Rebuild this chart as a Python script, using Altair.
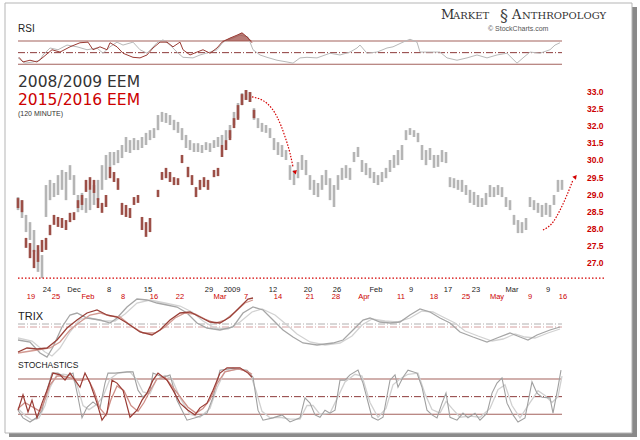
import altair as alt
import pandas as pd

# ---------------- data ----------------
price_ticks = [27.0, 27.5, 28.0, 28.5, 29.0, 29.5, 30.0, 31.5, 32.0, 32.5, 33.0]

# 2008/2009 EEM (120 minute bars): step position, high, low
gray_t = list(range(0, 548, 4))
gray_high = [28.93, 28.84, 28.41, 28.20, 27.97, 27.39, 27.24, 29.28, 29.43, 29.34,
             29.57, 29.72, 29.66, 29.86, 29.57, 28.99, 29.05, 28.90, 29.14, 29.28,
             29.43, 29.86, 30.47, 30.73, 30.73, 30.90, 31.34, 31.68, 31.59, 31.65,
             31.59, 31.68, 31.80, 31.88, 31.94, 32.32, 32.41, 32.38, 32.32, 32.18,
             32.12, 31.94, 31.74, 31.59, 31.50, 31.50, 31.34, 31.53, 31.50, 31.59,
             31.68, 31.74, 31.88, 32.03, 32.41, 32.67, 32.96, 33.05, 32.99, 32.52,
             32.23, 32.09, 32.03, 31.94, 31.65, 31.53, 31.34, 30.90, 29.86, 29.72,
             29.95, 30.47, 30.03, 29.57, 29.43, 29.34, 29.57, 29.72, 29.48, 29.28,
             29.57, 29.78, 29.86, 29.78, 30.73, 31.17, 30.03, 29.92, 29.78, 29.66,
             29.57, 29.66, 29.78, 30.03, 30.47, 30.90, 31.34, 31.88, 31.94, 31.88,
             31.80, 31.34, 30.90, 31.08, 30.47, 30.47, 30.90, 30.73, 29.51, 29.48,
             29.43, 29.43, 29.28, 29.14, 29.08, 28.99, 28.90, 29.05, 29.28, 29.22,
             29.28, 29.22, 28.93, 28.84, 28.41, 28.26, 28.20, 28.32, 28.93, 28.84,
             28.76, 28.70, 28.76, 28.70, 28.99, 29.43, 29.43]
gray_low = [28.55, 28.32, 27.91, 27.68, 27.33, 26.75, 26.57, 28.35, 28.84, 28.93,
            28.99, 29.14, 28.84, 29.43, 28.99, 28.49, 28.55, 28.47, 28.55, 28.70,
            28.84, 29.14, 29.43, 29.81, 29.86, 29.92, 30.20, 30.73, 30.64, 30.90,
            30.90, 31.08, 31.34, 31.59, 31.65, 31.88, 32.12, 32.09, 32.03, 31.88,
            31.80, 31.59, 31.08, 30.90, 30.73, 30.73, 30.64, 30.90, 30.73, 31.08,
            31.17, 31.34, 31.59, 31.65, 32.03, 32.23, 32.61, 32.76, 32.70, 32.18,
            31.94, 31.83, 31.80, 31.65, 30.90, 30.47, 30.29, 30.03, 29.43, 29.28,
            29.48, 29.72, 29.57, 29.14, 28.99, 28.93, 29.14, 29.28, 28.84, 28.64,
            29.14, 29.43, 29.48, 29.43, 29.95, 30.29, 29.66, 29.57, 29.48, 29.34,
            29.28, 29.37, 29.48, 29.66, 29.78, 29.86, 30.03, 31.59, 31.74, 31.68,
            31.53, 30.03, 29.86, 30.03, 29.78, 29.81, 29.95, 29.92, 29.22, 29.19,
            29.14, 29.08, 28.99, 28.76, 28.70, 28.64, 28.64, 28.70, 28.93, 28.93,
            28.99, 28.93, 28.64, 28.55, 28.12, 27.88, 27.88, 27.97, 28.64, 28.55,
            28.47, 28.35, 28.41, 28.35, 28.70, 29.08, 29.14]

# 2015/2016 EEM
red_t = [0, 4, 8, 12, 16, 20, 24, 28, 32, 36, 40, 44, 48, 52, 56, 60, 64, 68, 72, 76,
         80, 84, 88, 92, 96, 100, 104, 108, 112, 116, 120, 124, 128, 132,
         140, 144, 148, 152, 156, 160, 164,
         170, 174, 178, 182, 186, 190,
         196, 200, 204, 208, 212, 216, 220, 224, 228, 232, 236]
red_high = [28.90, 28.84, 27.74, 27.59, 27.39, 27.53, 27.68, 27.74, 28.12, 28.41,
            28.35, 28.32, 28.26, 28.47, 28.49, 28.84, 28.99, 29.43, 29.51, 29.43,
            28.90, 28.76, 28.99, 29.81, 29.66, 29.48, 28.76, 28.70, 28.61, 28.93,
            28.99, 28.35, 28.20, 28.32,
            29.14, 29.66, 29.78, 29.66, 29.51, 29.48, 30.47,
            29.81, 29.57, 29.22, 29.43, 29.51, 29.43,
            29.72, 29.78, 31.34, 31.59, 31.88, 32.23, 32.61, 32.93, 33.05, 32.99, 32.47]
red_low = [28.61, 28.49, 27.45, 27.15, 26.86, 27.04, 27.33, 27.39, 27.82, 28.12,
           28.06, 28.03, 27.97, 28.20, 28.26, 28.61, 28.70, 29.08, 29.14, 29.05,
           28.61, 28.47, 28.64, 29.48, 29.37, 29.14, 28.41, 28.35, 28.32, 28.70,
           28.76, 27.97, 27.77, 27.91,
           28.93, 29.43, 29.48, 29.37, 29.28, 29.28, 29.92,
           29.51, 29.28, 28.93, 29.14, 29.22, 29.14,
           29.51, 29.54, 30.29, 30.90, 31.59, 31.94, 32.18, 32.61, 32.76, 32.70, 32.23]

low_level = 26.57
low_level_span = [0, 587]

arrow1_t = [234, 249, 259, 267, 272, 275]
arrow1_p = [32.85, 32.66, 32.27, 31.69, 30.62, 29.81]
arrow1_head = (277, 29.66)
arrow2_t = [525, 535, 542, 549, 555]
arrow2_p = [27.97, 28.20, 28.55, 28.99, 29.43]
arrow2_head = (557, 29.51)

# RSI
rsi_gray_t = [0, 7, 15, 22, 25, 32, 40, 49, 59, 69, 79, 85, 92, 99, 105, 115, 122, 129, 139, 145,
              152, 159, 165, 175, 182, 192, 199, 205, 215, 222, 230, 235, 242, 249, 259, 269, 275, 282, 289, 299,
              312, 322, 332, 339, 342, 349, 359, 369, 375, 385, 392, 399, 402, 412, 422, 429, 439, 449, 459, 469,
              479, 489, 499, 505, 512, 522, 532, 537, 542]
rsi_gray_v = [41, 32, 34, 37, 46, 58, 55, 63, 60, 55, 58, 49, 60, 68, 63, 68, 55, 49, 67, 72,
              63, 51, 42, 41, 46, 51, 55, 68, 75, 80, 77, 55, 46, 42, 37, 34, 32, 41, 42, 41,
              49, 46, 51, 58, 63, 49, 51, 58, 60, 68, 73, 68, 51, 51, 51, 41, 37, 41, 46, 41,
              46, 49, 32, 41, 51, 49, 55, 63, 67]
rsi_red_t = [1, 5, 12, 19, 25, 34, 42, 52, 62, 70, 75, 82, 89, 92, 99, 105, 115, 122, 129, 135,
             142, 149, 155, 162, 165, 172, 179, 185, 192, 199, 204, 212, 219, 224, 229, 234]
rsi_red_v = [42, 34, 37, 34, 42, 55, 51, 60, 67, 68, 55, 60, 55, 67, 60, 49, 42, 41, 46, 58,
             68, 68, 60, 68, 55, 46, 51, 55, 49, 58, 68, 75, 80, 84, 77, 67]
rsi_bands = [30, 70]
rsi_mid = 50

# TRIX
trix_gray_t = [0, 12, 22, 29, 35, 44, 52, 59, 69, 82, 92, 99, 109, 119, 129, 139, 149, 159, 169, 179,
               189, 202, 215, 225, 235, 245, 255, 265, 275, 285, 299, 315, 325, 335, 345, 352, 362, 372, 382, 392,
               402, 412, 422, 432, 442, 455, 469, 479, 492, 502, 510, 519, 532, 542]
trix_gray_v = [-0.8, -0.9, -1.45, -1.65, -1.15, -0.15, 0.45, 0.55, 0.3, 0.2, 0.05, 0.3, 0.85, 1.25, 1.2, 1.05, 0.95, 0.85, 0.55, 0.05,
               -0.2, -0.3, -0.15, 0.55, 0.85, 0.7, 0.2, -0.3, -0.65, -0.95, -1.05, -0.95, -0.8, -0.3, 0.2, 0.3, 0.1, 0.05, 0.1, 0.45,
               0.75, 0.6, 0.3, 0.05, -0.4, -0.65, -0.9, -0.7, -0.45, -0.65, -0.8, -0.55, -0.3, -0.15]
trix_gray_sig_t = [0, 14, 27, 34, 42, 52, 62, 72, 85, 97, 107, 119, 132, 147, 162, 174, 185, 197, 210, 222,
                   234, 244, 257, 269, 279, 292, 307, 322, 334, 344, 354, 367, 379, 392, 404, 415, 425, 437, 447, 460,
                   474, 485, 497, 507, 517, 530, 542]
trix_gray_sig_v = [-0.7, -0.85, -1.4, -1.6, -1.2, -0.4, 0.25, 0.3, 0.15, 0.15, 0.5, 1.05, 1.2, 1.05, 0.9, 0.6, 0.15, -0.2, -0.25, 0.1,
                   0.6, 0.75, 0.45, -0.05, -0.5, -0.9, -1.05, -0.95, -0.6, -0.05, 0.25, 0.15, 0.1, 0.3, 0.65, 0.6, 0.35, 0.05, -0.35, -0.6,
                   -0.85, -0.75, -0.5, -0.65, -0.7, -0.45, -0.25]
trix_red_t = [0, 9, 19, 29, 39, 49, 59, 69, 79, 89, 99, 109, 122, 134, 142, 152, 162, 172, 182, 192,
              202, 212, 222, 230, 235]
trix_red_v = [-1.25, -1.05, -1.1, -1.05, -0.65, -0.05, 0.35, 0.7, 0.85, 0.6, 0.5, 0.2, -0.25, -0.4, -0.15, 0.35, 0.7, 0.75, 0.5, 0.25,
              0.2, 0.5, 1.0, 1.4, 1.45]
trix_red_sig_t = [0, 19, 32, 42, 52, 62, 72, 82, 92, 102, 112, 125, 137, 147, 157, 167, 177, 187, 197, 207,
                  217, 227, 235]
trix_red_sig_v = [-1.3, -1.15, -1.05, -0.75, -0.15, 0.25, 0.6, 0.7, 0.55, 0.5, 0.1, -0.3, -0.3, 0.0, 0.45, 0.7, 0.65, 0.4, 0.2, 0.35,
                  0.75, 1.2, 1.35]

# Stochastics
sto_gray_t = [0, 5, 12, 19, 24, 29, 34, 40, 47, 55, 60, 64, 69, 75, 82, 87, 90, 97, 109, 115,
              120, 125, 132, 135, 145, 152, 159, 169, 179, 189, 195, 202, 215, 229, 235, 240, 245, 255, 264, 272,
              282, 287, 292, 297, 302, 307, 312, 317, 322, 327, 332, 340, 345, 354, 360, 365, 372, 377, 380, 385,
              390, 399, 404, 409, 414, 419, 424, 428, 432, 439, 445, 450, 457, 462, 469, 474, 479, 484, 489, 495,
              500, 507, 514, 519, 524, 532, 535, 540, 543]
sto_gray_k = [27, 14, 7, 15, 27, 61, 90, 90, 83, 90, 49, 14, 32, 41, 31, 73, 90, 90, 92, 92,
              61, 49, 61, 90, 83, 87, 44, 10, 15, 22, 49, 95, 98, 95, 83, 27, 10, 14, 19, 7,
              14, 48, 39, 19, 15, 27, 22, 27, 78, 78, 87, 95, 73, 15, 10, 15, 78, 87, 66, 83,
              95, 90, 66, 27, 19, 14, 39, 56, 15, 10, 22, 14, 22, 10, 22, 56, 73, 82, 39, 19,
              7, 14, 75, 56, 49, 48, 22, 66, 95]
sto_gray_dt = [0, 7, 14, 21, 27, 32, 38, 45, 52, 59, 65, 71, 78, 85, 92, 100, 112, 119, 125, 132,
               138, 147, 154, 162, 172, 182, 192, 199, 207, 222, 232, 238, 244, 252, 262, 272, 282, 289, 295, 302,
               312, 320, 327, 337, 344, 352, 360, 368, 375, 382, 390, 400, 407, 414, 422, 428, 434, 442, 452, 462,
               472, 480, 487, 494, 502, 512, 520, 527, 534, 540, 544]
sto_gray_d = [30, 18, 10, 14, 35, 65, 85, 88, 86, 70, 35, 28, 36, 50, 80, 90, 92, 78, 58, 55,
              78, 86, 80, 48, 20, 15, 30, 65, 93, 97, 90, 60, 25, 14, 15, 12, 12, 35, 35, 20,
              22, 50, 75, 88, 85, 40, 15, 30, 70, 80, 88, 90, 55, 28, 22, 42, 30, 15, 17, 15,
              30, 62, 70, 35, 14, 40, 60, 52, 40, 50, 85]
sto_red_t = [0, 5, 10, 14, 19, 24, 29, 35, 42, 47, 52, 57, 62, 67, 72, 79, 84, 89, 94, 99,
             105, 112, 119, 124, 129, 135, 140, 149, 155, 162, 170, 177, 182, 189, 195, 202, 209, 222, 230, 234]
sto_red_k = [27, 53, 24, 44, 14, 39, 61, 90, 87, 78, 90, 78, 66, 90, 73, 39, 10, 22, 78, 73,
             61, 15, 27, 44, 56, 78, 90, 78, 61, 39, 27, 19, 31, 39, 61, 90, 99, 99, 90, 83]
sto_red_dt = [0, 7, 12, 17, 22, 27, 32, 39, 45, 52, 59, 65, 70, 76, 82, 88, 93, 99, 106, 113,
              120, 126, 132, 139, 147, 154, 162, 170, 178, 185, 192, 199, 207, 220, 229, 234]
sto_red_d = [30, 40, 35, 30, 25, 45, 70, 85, 85, 82, 78, 78, 80, 60, 30, 18, 45, 68, 60, 35,
             25, 40, 60, 80, 83, 68, 50, 32, 22, 30, 45, 72, 92, 97, 93, 88]
sto_bands = [20, 80]
sto_mid = 50
ind_span = [0, 544]

# date labels (2008/2009 row, 2015/2016 row)
dates_old_t = [29, 56, 91, 130, 191, 214, 255, 290, 319, 358, 393, 430, 458, 494, 530]
dates_old = ["24", "Dec", "8", "15", "29", "2009", "12", "20", "26", "Feb", "9", "17", "23", "Mar", "9"]
dates_new_t = [13, 38, 70, 105, 136, 162, 202, 228, 260, 292, 318, 346, 383, 416, 448, 479, 512, 545]
dates_new = ["19", "25", "Feb", "8", "16", "22", "Mar", "7", "14", "21", "28", "Apr", "11", "18", "25", "May", "9", "16"]

# ---------------- scales / layout ----------------
W, H = 640, 440
xs = alt.Scale(domain=[0, 600], range=[18, 618], nice=False, zero=False)
p_bot, p_top = 263.3, 91.7
price_range = [p_bot - i * (p_bot - p_top) / (len(price_ticks) - 1) for i in range(len(price_ticks))]


def pscale():
    return alt.Scale(domain=price_ticks, range=price_range, nice=False, zero=False)


def rsi_scale():
    return alt.Scale(domain=[0, 100], range=[81.8, 23.5], nice=False, zero=False)


def trix_gray_scale():
    return alt.Scale(domain=[-1, 1], range=[344, 304], nice=False, zero=False)


def trix_red_scale():
    return alt.Scale(domain=[-1, 1], range=[347, 307], nice=False, zero=False)


def sto_scale():
    return alt.Scale(domain=[0, 100], range=[426.1, 367.2], nice=False, zero=False)


X = lambda f: alt.X(f, type="quantitative", scale=xs, axis=None)
one = pd.DataFrame({"a": [0]})


def series(t, v, scale_fn, color, width=1.1, dash=None, opacity=1.0):
    kw = dict(color=color, strokeWidth=width, opacity=opacity)
    if dash:
        kw["strokeDash"] = dash
    return alt.Chart(pd.DataFrame({"t": t, "v": v})).mark_line(**kw).encode(
        x=X("t"), y=alt.Y("v:Q", scale=scale_fn(), axis=None))


def hlines(levels, scale_fn, color, width=1.0, dash=None):
    kw = dict(color=color, strokeWidth=width)
    if dash:
        kw["strokeDash"] = dash
    df = pd.DataFrame({"t0": [ind_span[0]] * len(levels), "t1": [ind_span[1]] * len(levels), "lv": levels})
    return alt.Chart(df).mark_rule(**kw).encode(
        x=X("t0"), x2="t1", y=alt.Y("lv:Q", scale=scale_fn(), axis=None))


def label(txt, x, y, size, color="#333333", font="Liberation Sans", weight="normal", align="left"):
    return alt.Chart(one).mark_text(text=txt, fontSize=size, color=color, font=font,
                                    fontWeight=weight, align=align, baseline="alphabetic").encode(
        x=alt.value(x), y=alt.value(y))


layers = []

# frame + shadow
layers.append(alt.Chart(one).mark_rect(color="#8a8a8a").encode(
    x=alt.value(631), x2=alt.value(637), y=alt.value(7), y2=alt.value(437)))
layers.append(alt.Chart(one).mark_rect(color="#8a8a8a").encode(
    x=alt.value(9), x2=alt.value(637), y=alt.value(432), y2=alt.value(437)))
layers.append(alt.Chart(one).mark_rect(fill="white", stroke="#b5b5b5", strokeWidth=1).encode(
    x=alt.value(5), x2=alt.value(632), y=alt.value(3), y2=alt.value(433)))

DASHDOT = [7, 2, 1, 2]

# ---- RSI panel ----
layers.append(hlines(rsi_bands, rsi_scale, "#a3625c", 1.1))
layers.append(hlines([rsi_mid], rsi_scale, "#8c3a3a", 1.0, DASHDOT))
layers.append(series(rsi_gray_t, rsi_gray_v, rsi_scale, "#b8b8b8", 1.0))
layers.append(
    alt.Chart(pd.DataFrame({"t": rsi_red_t, "v": rsi_red_v}))
    .transform_calculate(top="max(datum.v, 70)")
    .mark_area(color="#a0504a", opacity=0.75)
    .encode(x=X("t"), y=alt.Y("top:Q", scale=rsi_scale(), axis=None), y2=alt.datum(70))
)
layers.append(series(rsi_red_t, rsi_red_v, rsi_scale, "#9a3b34", 1.0))

# ---- price panel ----
layers.append(
    alt.Chart(pd.DataFrame({"t": gray_t, "hi": gray_high, "lo": gray_low}))
    .mark_rule(color="#b5b5b5", strokeWidth=2.6)
    .encode(x=X("t"), y=alt.Y("lo:Q", scale=pscale(), axis=None), y2="hi:Q")
)
layers.append(
    alt.Chart(pd.DataFrame({"t": red_t, "hi": red_high, "lo": red_low}))
    .mark_rule(color="#9c4f47", strokeWidth=2.6)
    .encode(x=X("t"), y=alt.Y("lo:Q", scale=pscale(), axis=None), y2="hi:Q")
)
# price tick labels (right side)
layers.append(
    alt.Chart(pd.DataFrame({"p": price_ticks}))
    .transform_calculate(lab="format(datum.p, '.1f')")
    .mark_text(color="#cc0000", fontWeight="bold", fontSize=8.5, font="Liberation Sans",
               align="left", baseline="middle")
    .encode(x=alt.value(587), y=alt.Y("p:Q", scale=pscale(), axis=None), text="lab:N")
)
layers.append(
    alt.Chart(pd.DataFrame({"t0": [low_level_span[0]], "t1": [low_level_span[1]], "p": [low_level]}))
    .mark_rule(color="#d40000", strokeWidth=1.3, strokeDash=[1.5, 2])
    .encode(x=X("t0"), x2="t1", y=alt.Y("p:Q", scale=pscale(), axis=None))
)
for at, ap in [(arrow1_t, arrow1_p), (arrow2_t, arrow2_p)]:
    layers.append(
        alt.Chart(pd.DataFrame({"t": at, "p": ap}))
        .mark_line(color="#d40000", strokeWidth=1.2, strokeDash=[1.5, 1.5], interpolate="monotone")
        .encode(x=X("t"), y=alt.Y("p:Q", scale=pscale(), axis=None))
    )
for (ht, hp), ang in [(arrow1_head, 165), (arrow2_head, 40)]:
    layers.append(
        alt.Chart(pd.DataFrame({"t": [ht], "p": [hp]}))
        .mark_point(shape="triangle", filled=True, color="#d40000", size=22, angle=ang, opacity=1)
        .encode(x=X("t"), y=alt.Y("p:Q", scale=pscale(), axis=None))
    )

# date labels
layers.append(
    alt.Chart(pd.DataFrame({"t": dates_old_t, "lab": dates_old}))
    .mark_text(fontSize=7.5, color="#222222", font="Liberation Sans", baseline="middle")
    .encode(x=X("t"), y=alt.value(289.5), text="lab:N")
)
layers.append(
    alt.Chart(pd.DataFrame({"t": dates_new_t, "lab": dates_new}))
    .mark_text(fontSize=7.5, color="#cc0000", font="Liberation Sans", baseline="middle")
    .encode(x=X("t"), y=alt.value(297), text="lab:N")
)

# ---- TRIX panel ----
layers.append(hlines([0], trix_gray_scale, "#b0b0b0", 1.0, DASHDOT))
layers.append(hlines([0], trix_red_scale, "#d4a0a0", 1.0, DASHDOT))
layers.append(series(trix_gray_sig_t, trix_gray_sig_v, trix_gray_scale, "#d2d2d2", 1.3))
layers.append(series(trix_gray_t, trix_gray_v, trix_gray_scale, "#a6a6a6", 1.3))
layers.append(series(trix_red_sig_t, trix_red_sig_v, trix_red_scale, "#d29a92", 1.3))
layers.append(series(trix_red_t, trix_red_v, trix_red_scale, "#9a4038", 1.3))

# ---- Stochastics panel ----
layers.append(hlines(sto_bands, sto_scale, "#a3625c", 1.1))
layers.append(hlines([sto_mid], sto_scale, "#8c3a3a", 1.0, DASHDOT))
layers.append(series(sto_gray_dt, sto_gray_d, sto_scale, "#d0d0d0", 1.3))
layers.append(series(sto_gray_t, sto_gray_k, sto_scale, "#a0a0a0", 1.1))
layers.append(series(sto_red_dt, sto_red_d, sto_scale, "#cf8f88", 1.3))
layers.append(series(sto_red_t, sto_red_k, sto_scale, "#9a3b34", 1.2))

# ---- texts ----
layers.append(label("RSI", 18, 32, 10, "#222222"))
layers.append(label("2008/2009 EEM", 18, 87, 15.5, "#333333", font="DejaVu Sans"))
layers.append(label("2015/2016 EEM", 18, 105, 15.5, "#cc0000", font="DejaVu Sans"))
layers.append(label("(120 MINUTE)", 18, 116, 7, "#333333"))
layers.append(label("TRIX", 18, 320, 11, "#222222"))
layers.append(label("STOCHASTICS", 18, 368, 8.5, "#222222"))
layers.append(label("M", 441, 19, 13, "#333333", font="DejaVu Serif"))
layers.append(label("ARKET", 453, 19, 10, "#333333", font="DejaVu Serif"))
layers.append(label("§", 500, 21, 16, "#444444", font="DejaVu Serif"))
layers.append(label("A", 512, 19, 13, "#333333", font="DejaVu Serif"))
layers.append(label("NTHROPOLOGY", 522, 19, 10, "#333333", font="DejaVu Serif"))
layers.append(label("© StockCharts.com", 488, 31, 7, "#555555"))

chart = (
    alt.layer(*layers)
    .resolve_scale(y="independent")
    .properties(width=W, height=H, autosize=alt.AutoSizeParams(type="none"), padding=0, background="white")
    .configure_view(stroke=None)
)

chart.save("out.html", embed_options={"renderer": "svg", "actions": False})
